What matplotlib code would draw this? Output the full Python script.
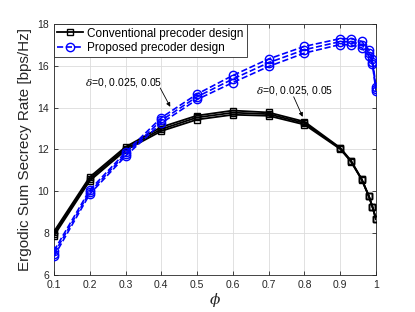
import numpy as np
import matplotlib
matplotlib.use('Agg')
import matplotlib.pyplot as plt

plt.rcParams['font.family'] = ['Liberation Sans', 'DejaVu Sans']
plt.rcParams['mathtext.fontset'] = 'dejavuserif'

phi = [0.1, 0.2, 0.3, 0.4, 0.5, 0.6, 0.7, 0.8, 0.9, 0.93, 0.96, 0.98, 0.99, 1.0]

# conventional precoder, delta = 0, 0.025, 0.05
conv_d0 = [8.07, 10.68, 12.12, 13.07, 13.62, 13.86, 13.77, 13.33, 12.08, 11.47, 10.58, 9.78, 9.27, 8.68]
conv_d1 = [7.97, 10.59, 12.04, 12.97, 13.53, 13.76, 13.69, 13.26, 12.05, 11.44, 10.57, 9.77, 9.26, 8.67]
conv_d2 = [7.87, 10.50, 11.96, 12.88, 13.43, 13.66, 13.61, 13.19, 12.02, 11.42, 10.56, 9.76, 9.25, 8.66]

# proposed precoder, delta = 0, 0.025, 0.05
prop_d0 = [7.15, 10.06, 11.86, 13.52, 14.65, 15.54, 16.33, 16.93, 17.30, 17.30, 17.17, 16.76, 16.33, 14.97]
prop_d1 = [7.02, 9.96, 11.77, 13.39, 14.52, 15.37, 16.15, 16.77, 17.16, 17.15, 17.02, 16.62, 16.20, 14.88]
prop_d2 = [6.88, 9.86, 11.68, 13.26, 14.39, 15.20, 15.97, 16.61, 17.02, 17.00, 16.87, 16.47, 16.07, 14.80]

labels = ['Conventional precoder design', 'Proposed precoder design']
delta_text = r'$\delta$=0, 0.025, 0.05'

fig = plt.figure(figsize=(4.15, 3.12), dpi=100)
ax = fig.add_axes([0.130, 0.119, 0.776, 0.804])

gray = '#262626'
for i, ys in enumerate([conv_d0, conv_d1, conv_d2]):
    ax.plot(phi, ys, '-', color='black', lw=1.3, marker='s', ms=5,
            mfc='none', mew=1.0, label=labels[0] if i == 0 else None, zorder=3)
for i, ys in enumerate([prop_d0, prop_d1, prop_d2]):
    ax.plot(phi, ys, '--', color='#0000ff', lw=1.2, marker='o', ms=6,
            mfc='none', mew=1.0, label=labels[1] if i == 0 else None, zorder=3)

ax.set_xlim(0.1, 1.0)
ax.set_ylim(6, 18)
ax.set_xticks([0.1, 0.2, 0.3, 0.4, 0.5, 0.6, 0.7, 0.8, 0.9, 1.0])
ax.set_xticklabels(['0.1', '0.2', '0.3', '0.4', '0.5', '0.6', '0.7', '0.8', '0.9', '1'])
ax.set_yticks([6, 8, 10, 12, 14, 16, 18])
ax.grid(True, color='#dcdcdc', lw=0.6)
ax.set_axisbelow(True)
ax.tick_params(direction='in', top=True, right=True, labelsize=7.5,
               colors=gray, length=3, width=0.6)
for s in ax.spines.values():
    s.set_color(gray)
    s.set_linewidth(0.6)

ax.set_ylabel('Ergodic Sum Secrecy Rate [bps/Hz]', fontsize=11, color=gray, labelpad=4)
ax.set_xlabel(r'$\phi$', fontsize=11, color=gray, labelpad=1)

# annotations: text and arrow drawn separately
ax.text(0.295, 15.2, delta_text, ha='center', va='center', fontsize=7.5)
ax.annotate('', xy=(0.425, 14.04), xytext=(0.397, 14.94),
            arrowprops=dict(arrowstyle='-|>', color='black', lw=0.6,
                            mutation_scale=6, shrinkA=0, shrinkB=0))
ax.text(0.774, 14.81, delta_text, ha='center', va='center', fontsize=7.5)
ax.annotate('', xy=(0.795, 13.56), xytext=(0.770, 14.52),
            arrowprops=dict(arrowstyle='-|>', color='black', lw=0.6,
                            mutation_scale=6, shrinkA=0, shrinkB=0))

leg = ax.legend(loc='upper left', bbox_to_anchor=(0.0, 1.0), fontsize=8.5,
                fancybox=False, framealpha=1, edgecolor=gray,
                borderaxespad=0, handlelength=2.2, handletextpad=0.3,
                borderpad=0.3, labelspacing=0.2)
leg.get_frame().set_linewidth(0.6)

fig.savefig('out.png', dpi=100)
